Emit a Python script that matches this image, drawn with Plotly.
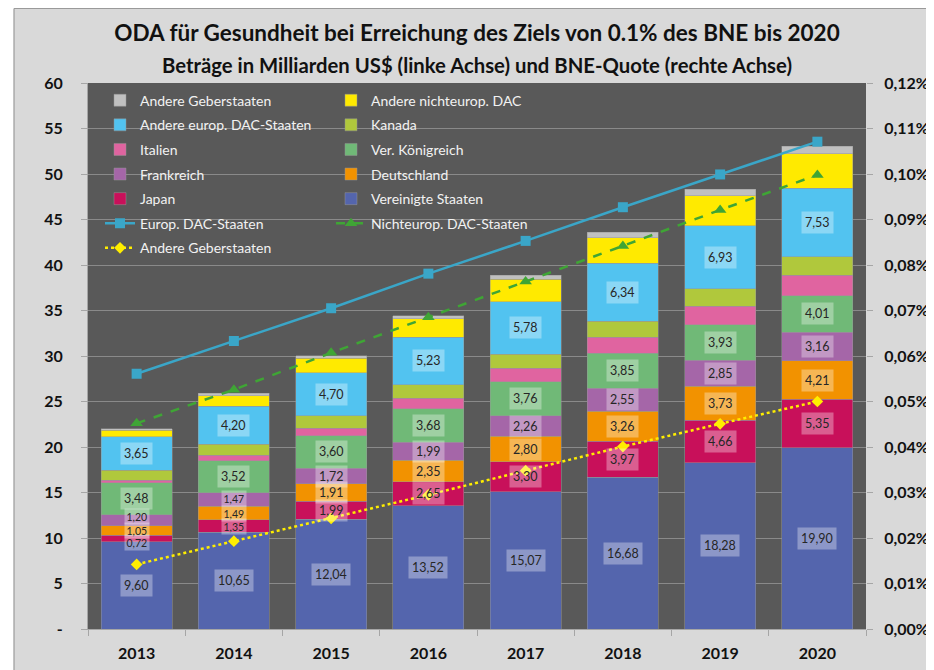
import plotly.graph_objects as go

years = ["2013", "2014", "2015", "2016", "2017", "2018", "2019", "2020"]

us = [9.60, 10.65, 12.04, 13.52, 15.07, 16.68, 18.28, 19.90]
japan = [0.72, 1.35, 1.99, 2.65, 3.30, 3.97, 4.66, 5.35]
germany = [1.05, 1.49, 1.91, 2.35, 2.80, 3.26, 3.73, 4.21]
france = [1.20, 1.47, 1.72, 1.99, 2.26, 2.55, 2.85, 3.16]
uk = [3.48, 3.52, 3.60, 3.68, 3.76, 3.85, 3.93, 4.01]
italy = [0.30, 0.60, 0.80, 1.16, 1.45, 1.75, 2.00, 2.22]
canada = [1.10, 1.20, 1.38, 1.49, 1.56, 1.78, 1.96, 2.03]
other_eu = [3.65, 4.20, 4.70, 5.23, 5.78, 6.34, 6.93, 7.53]
other_noneu = [0.73, 1.15, 1.60, 2.00, 2.44, 2.80, 3.27, 3.82]
other_donors = [0.20, 0.30, 0.29, 0.36, 0.47, 0.62, 0.73, 0.80]

# GNI shares in percent (right axis)
eu_dac_pct = [0.0561, 0.0633, 0.0705, 0.0781, 0.0853, 0.0927, 0.0999, 0.1071]
noneu_dac_pct = [0.0452, 0.0526, 0.0607, 0.0685, 0.0764, 0.0842, 0.0921, 0.0998]
other_donors_pct = [0.0142, 0.0193, 0.0243, 0.0295, 0.0348, 0.0401, 0.0451, 0.0500]

left_tickvals = [0, 5, 10, 15, 20, 25, 30, 35, 40, 45, 50, 55, 60]
left_ticktext = ["-", "5", "10", "15", "20", "25", "30", "35", "40", "45", "50", "55", "60"]
right_tickvals = [0.00, 0.01, 0.02, 0.03, 0.04, 0.05, 0.06, 0.07, 0.08, 0.09, 0.10, 0.11, 0.12]
right_ticktext = [f"{v:.2f}".replace(".", ",") + "%" for v in right_tickvals]

# (name, values, color, labelled, legend, rank)
bar_series = [
    ("Vereinigte Staaten", us, "#5465ad", True, "legend2", 5),
    ("Japan", japan, "#c8105a", True, "legend", 5),
    ("Deutschland", germany, "#f29200", True, "legend2", 4),
    ("Frankreich", france, "#a566a8", True, "legend", 4),
    ("Ver. Königreich", uk, "#70b977", True, "legend2", 3),
    ("Italien", italy, "#e064a0", False, "legend", 3),
    ("Kanada", canada, "#b0c83c", False, "legend2", 2),
    ("Andere europ. DAC-Staaten", other_eu, "#52c3f0", True, "legend", 2),
    ("Andere nichteurop. DAC", other_noneu, "#ffea00", False, "legend2", 1),
    ("Andere Geberstaaten", other_donors, "#c0c0c0", False, "legend", 1),
]

# small label nudges (pixels) where neighbouring labels would collide
label_nudge = {("Japan", 0): -4, ("Frankreich", 0): 4, ("Japan", 1): -1, ("Frankreich", 1): 1}

FONT = "Lato"
fig = go.Figure()

annotations = []
base = [0.0] * len(years)
for i, (name, vals, color, labelled, leg, rank) in enumerate(bar_series):
    fig.add_trace(go.Bar(
        x=years, y=list(vals), name=name,
        marker=dict(color=color, line=dict(color="rgba(150,150,150,0.8)", width=0.6)),
        legend=leg, legendrank=rank, legendgroup=f"g{i}", yaxis="y",
    ))
    if labelled:
        for j, val in enumerate(vals):
            mid = float(base[j] + val / 2.0)
            small = val < 1.6
            annotations.append(go.layout.Annotation(
                x=j, y=mid, xref="x", yref="y", text=f"{val:.2f}".replace(".", ","),
                showarrow=False, bgcolor="rgba(255,255,255,0.33)",
                borderpad=1.5 if small else 3, yshift=label_nudge.get((name, j), 0),
                font=dict(family=FONT, size=10.5 if small else 12.5, color="#262626"),
            ))
    base = [float(b + v) for b, v in zip(base, vals)]

fig.add_trace(go.Scatter(
    x=years, y=eu_dac_pct, name="Europ. DAC-Staaten", yaxis="y2", mode="lines+markers",
    line=dict(color="#3aa6c8", width=2.5), marker=dict(symbol="square", size=10, color="#3aa6c8"),
    legend="legend", legendrank=6, legendgroup="l1",
))
fig.add_trace(go.Scatter(
    x=years, y=noneu_dac_pct, name="Nichteurop. DAC-Staaten", yaxis="y2", mode="lines+markers",
    line=dict(color="#3fa535", width=2.5, dash="dash"), marker=dict(symbol="triangle-up", size=11, color="#3fa535"),
    legend="legend2", legendrank=6, legendgroup="l2",
))
fig.add_trace(go.Scatter(
    x=years, y=other_donors_pct, name="Andere Geberstaaten", yaxis="y2", mode="lines+markers",
    line=dict(color="#ffee00", width=2.5, dash="dot"), marker=dict(symbol="diamond", size=9, color="#ffee00"),
    legend="legend", legendrank=7, legendgroup="l3",
))

annotations.append(go.layout.Annotation(
    text="Beträge in Milliarden US$ (linke Achse) und BNE-Quote (rechte Achse)",
    xref="paper", yref="paper", x=0.5, y=1.033, yanchor="middle", showarrow=False,
    font=dict(family=FONT, size=20.3, color="#111111", weight="bold"),
))

leg_common = dict(
    orientation="v", yanchor="top", xanchor="left", bgcolor="rgba(0,0,0,0)",
    font=dict(family=FONT, size=14, color="#f2f2f2"), traceorder="grouped", tracegroupgap=3.4,
)

# figure sits at (8,8) in the page; plot area: l=80, t=75, w=778, h=546
PW, PH = 778.0, 546.0
fx = lambda px: (px - 80) / PW
fy = lambda py: (621 - py) / PH
shapes = [
    dict(type="rect", xref="paper", yref="paper", x0=-1, x1=fx(6), y0=-1, y1=2,
         fillcolor="white", line=dict(width=0), layer="above"),
    dict(type="line", xref="paper", yref="paper", x0=fx(6), x1=fx(6), y0=-1, y1=fy(0.5),
         line=dict(width=1.2, color="#9a9a9a"), layer="above"),
    dict(type="line", xref="paper", yref="paper", x0=fx(6), x1=2, y0=fy(0.5), y1=fy(0.5),
         line=dict(width=1.2, color="#9a9a9a"), layer="above"),
]

fig.update_layout(
    width=926, height=662,
    margin=dict(l=80, r=68, t=75, b=41, autoexpand=False),
    paper_bgcolor="#d9d9d9", plot_bgcolor="#595959",
    barmode="stack", bargap=0.27,
    separators=",.",
    title=dict(text="ODA für Gesundheit bei Erreichung des Ziels von 0.1% des BNE bis 2020",
               x=0.5, xref="paper", xanchor="center", y=1 - 25 / 662, yanchor="middle",
               font=dict(family=FONT, size=22.5, color="#111111", weight="bold")),
    xaxis=dict(type="category", range=[-0.5, 7.5], tickson="boundaries", ticks="outside", ticklen=6,
               tickcolor="#a6a6a6", showline=True, linecolor="#a6a6a6", showgrid=False,
               ticklabelstandoff=10, automargin=False,
               tickfont=dict(family=FONT, size=16, color="#111111", weight="bold")),
    yaxis=dict(range=[0, 60], tickvals=left_tickvals, ticktext=left_ticktext, ticks="outside", ticklen=6,
               tickcolor="#a6a6a6", showgrid=True, gridcolor="#8a8a8a", gridwidth=1, zeroline=False,
               showline=True, linecolor="#a6a6a6", ticklabelstandoff=15, automargin=False,
               tickfont=dict(family=FONT, size=16, color="#111111", weight="bold")),
    yaxis2=dict(range=[0, 0.12], overlaying="y", side="right", tickvals=right_tickvals,
                ticktext=right_ticktext, ticks="outside", ticklen=6, tickcolor="#a6a6a6",
                showgrid=False, zeroline=False, ticklabelstandoff=8, automargin=False,
                tickfont=dict(family=FONT, size=16, color="#111111", weight="bold")),
    legend=dict(x=(100 - 88) / 778, y=0.997, **leg_common),
    legend2=dict(x=(331 - 88) / 778, y=0.997, **leg_common),
    annotations=annotations,
    shapes=shapes,
)

fig.write_html("out.html")
